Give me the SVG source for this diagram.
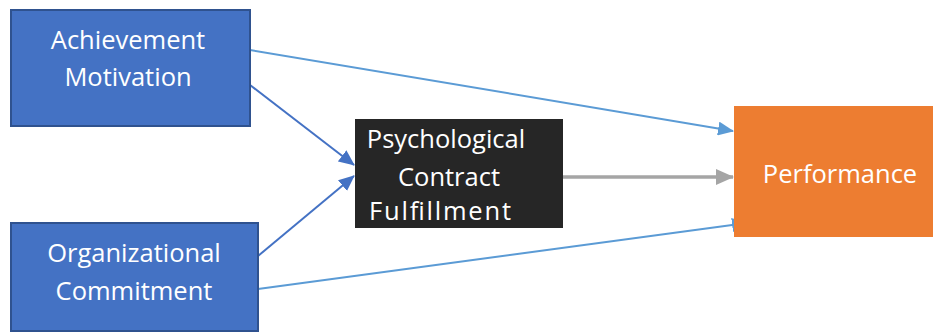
<svg xmlns="http://www.w3.org/2000/svg" width="933" height="333" viewBox="0 0 933 333">
  <style>
    .lbl { font-family: "Open Sans", "Liberation Sans", sans-serif; font-size: 25.5px; fill: #ffffff; text-anchor: middle; }
    .blue { fill: #4472C4; stroke: #2F528F; stroke-width: 2; }
    .edge { fill: none; stroke-width: 2; }
    .thick { stroke-width: 3.5; }
  </style>
  <defs>
    <marker id="ahDark" markerUnits="userSpaceOnUse" markerWidth="16" markerHeight="14" refX="15" refY="7" orient="auto">
      <path d="M0,0 L16,7 L0,14 z" fill="#4472C4"/>
    </marker>
    <marker id="ahLight" markerUnits="userSpaceOnUse" markerWidth="16" markerHeight="14" refX="15" refY="7" orient="auto">
      <path d="M0,0 L16,7 L0,14 z" fill="#5B9BD5"/>
    </marker>
    <marker id="ahGray" markerUnits="userSpaceOnUse" markerWidth="18" markerHeight="16" refX="17" refY="8" orient="auto">
      <path d="M0,0 L18,8 L0,16 z" fill="#A5A5A5"/>
    </marker>
  </defs>

  <rect width="933" height="333" fill="#ffffff"/>

  <g id="connectors">
    <line class="edge" x1="250" y1="50" x2="733" y2="131" stroke="#5B9BD5" marker-end="url(#ahLight)"/>
    <line class="edge" x1="250" y1="85" x2="354" y2="165" stroke="#4472C4" marker-end="url(#ahDark)"/>
    <line class="edge" x1="258" y1="256" x2="354" y2="176" stroke="#4472C4" marker-end="url(#ahDark)"/>
    <line class="edge" x1="258" y1="289" x2="747" y2="223" stroke="#5B9BD5" marker-end="url(#ahLight)"/>
    <line class="edge thick" x1="563" y1="177" x2="733" y2="177" stroke="#A5A5A5" marker-end="url(#ahGray)"/>
  </g>

  <g id="achievement">
    <rect class="blue" x="11" y="10" width="239" height="116"/>
    <text class="lbl" x="128" y="49">Achievement</text>
    <text class="lbl" x="128" y="86">Motivation</text>
  </g>

  <g id="commitment">
    <rect class="blue" x="11" y="223" width="247" height="108"/>
    <text class="lbl" x="134" y="262">Organizational</text>
    <text class="lbl" x="134" y="300">Commitment</text>
  </g>

  <g id="contract">
    <rect x="355" y="119" width="208" height="109" fill="#262626"/>
    <text class="lbl" x="446" y="148">Psychological</text>
    <text class="lbl" x="449" y="186">Contract</text>
    <text class="lbl" x="440" y="220" textLength="142">Fulfillment</text>
  </g>

  <g id="performance">
    <rect x="734" y="106" width="199" height="131" fill="#ED7D31"/>
    <text class="lbl" x="840" y="183">Performance</text>
  </g>
</svg>
